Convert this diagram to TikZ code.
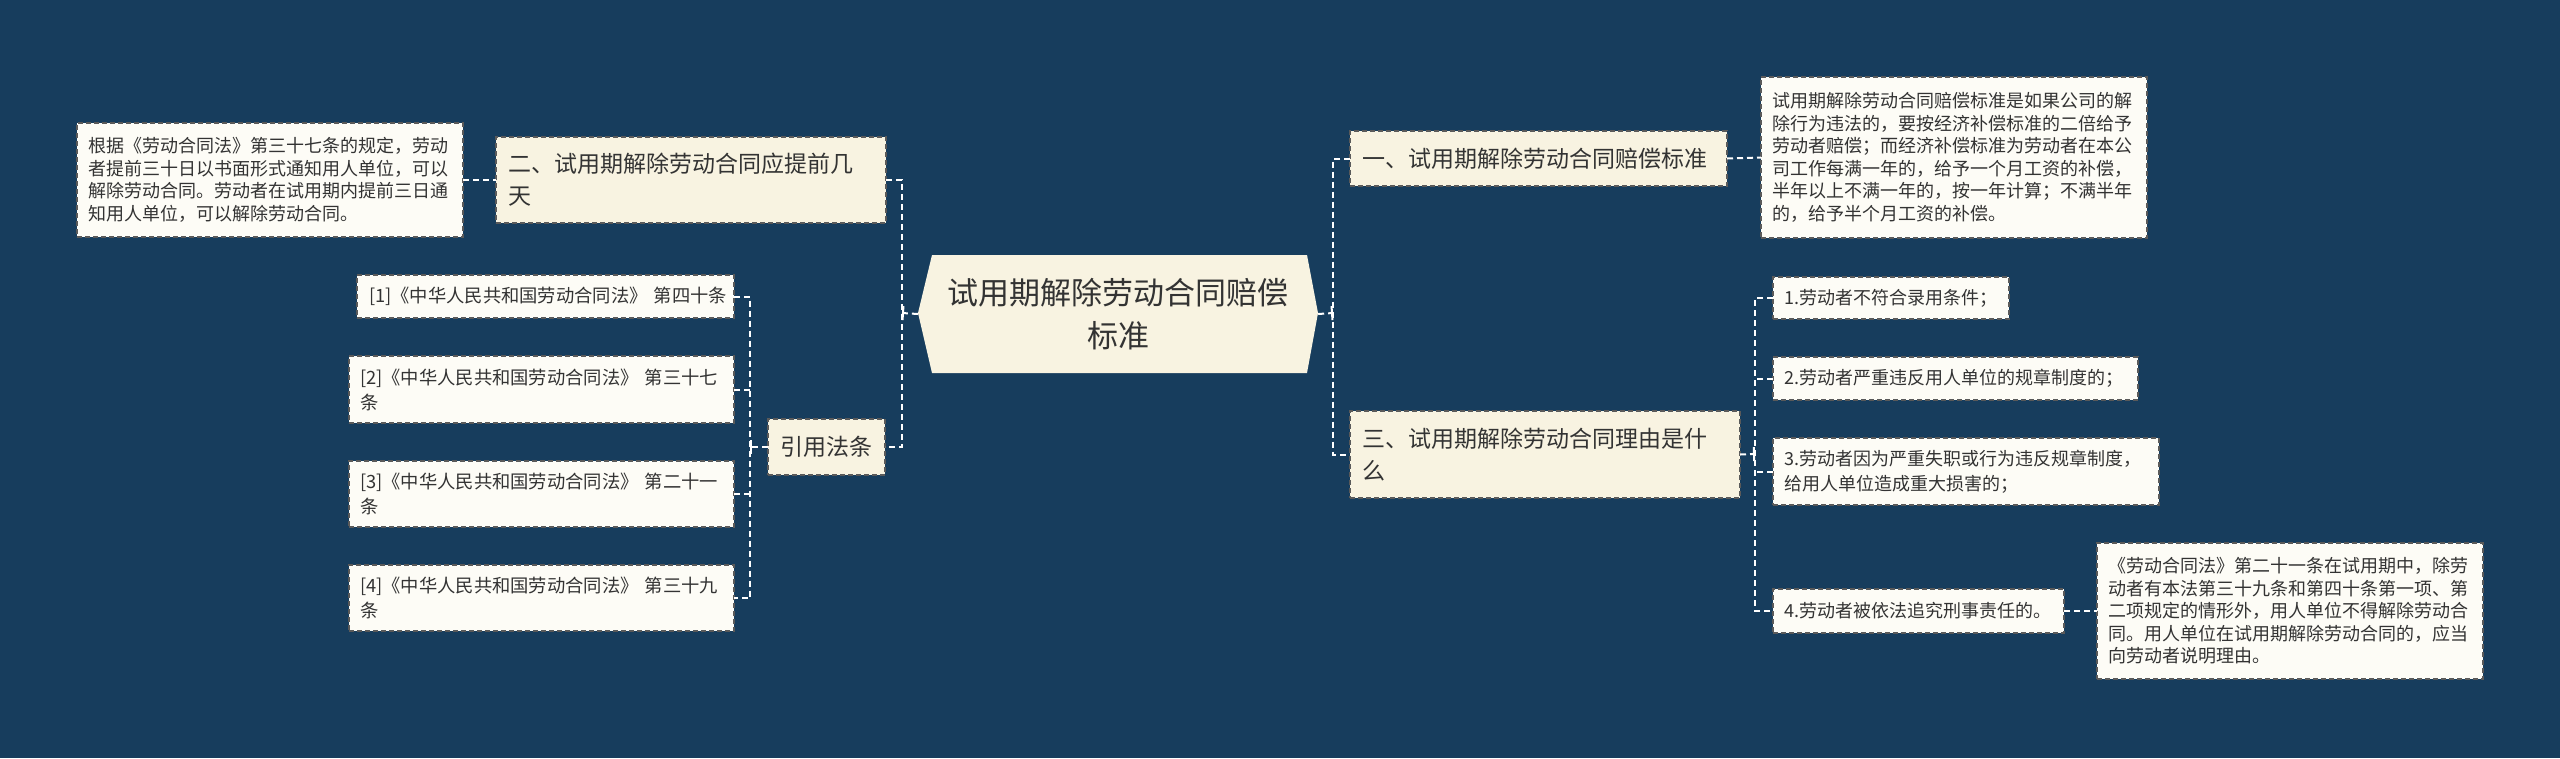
\documentclass[tikz,border=0pt]{standalone}
\usepackage{fontspec}
\setmainfont{Noto Sans CJK SC}
\usetikzlibrary{arrows.meta}
\definecolor{bgc}{HTML}{173D5D}
\definecolor{lone}{HTML}{F8F3E1}
\definecolor{leaff}{HTML}{FDFCF6}
\definecolor{bord}{HTML}{5A5A5A}
\definecolor{txt}{HTML}{333333}
\tikzset{
  box/.style={draw=bord, line width=1.2pt, dash pattern=on 5pt off 3pt, anchor=north west,
    inner xsep=11pt, inner ysep=0pt, align=left, text=txt, outer sep=0pt},
  lonebox/.style={box, fill=lone, font=\fontsize{23}{32}\selectfont, inner xsep=12pt},
  leafbox/.style={box, fill=leaff, font=\fontsize{18}{22.5}\selectfont},
  citebox/.style={box, fill=leaff, font=\fontsize{18.3}{25}\selectfont},
  conn/.style={draw=white, line width=2pt, dash pattern=on 6pt off 4pt},
  tick/.style={-{Bar[width=14pt,line width=2pt]}},
}
\begin{document}
\begin{tikzpicture}[x=1pt,y=-1pt]
\fill[bgc] (0,0) rectangle (2560,758);
\useasboundingbox (0,0) rectangle (2560,758);
% root hexagon
\fill[lone] (932,255) -- (1307,255) -- (1318,313) -- (1307,373) -- (932,373) -- (918,313) -- cycle;
\node[inner sep=0pt, minimum width=400pt, minimum height=118pt, align=center, text=txt,
  font=\fontsize{31}{43}\selectfont] (root) at (1118,314) {试用期解除劳动合同赔偿\\标准};
% left side
\node[lonebox, text width=366pt, minimum height=86pt] (b2) at (496,137) {二、试用期解除劳动合同应提前几\\天};
\node[leafbox, text width=364pt, minimum height=114pt] (b2d) at (77,123)
  {根据《劳动合同法》第三十七条的规定，劳动\\者提前三十日以书面形式通知用人单位，可以\\解除劳动合同。劳动者在试用期内提前三日通\\知用人单位，可以解除劳动合同。};
\node[lonebox, text width=93pt, minimum height=56pt] (cite) at (768,419) {引用法条};
\node[citebox, text width=353pt, minimum height=43pt, inner xsep=12pt] (c1) at (357,275) {\mbox{[1]《中华人民共和国劳动合同法》~第四十条}};
\node[citebox, text width=363pt, minimum height=67pt] (c2) at (349,356) {[2]《中华人民共和国劳动合同法》~第三十七\\条};
\node[citebox, text width=363pt, minimum height=66pt] (c3) at (349,461) {[3]《中华人民共和国劳动合同法》~第二十一\\条};
\node[citebox, text width=363pt, minimum height=66pt] (c4) at (349,565) {[4]《中华人民共和国劳动合同法》~第三十九\\条};
% right side
\node[lonebox, text width=353pt, minimum height=55pt] (b1) at (1350,131) {一、试用期解除劳动合同赔偿标准};
\node[leafbox, text width=364pt, minimum height=161pt] (b1d) at (1761,77)
  {试用期解除劳动合同赔偿标准是如果公司的解\\除行为违法的，要按经济补偿标准的二倍给予\\劳动者赔偿；而经济补偿标准为劳动者在本公\\司工作每满一年的，给予一个月工资的补偿，\\半年以上不满一年的，按一年计算；不满半年\\的，给予半个月工资的补偿。};
\node[lonebox, text width=366pt, minimum height=87pt] (b3) at (1350,411) {三、试用期解除劳动合同理由是什\\么};
\node[leafbox, text width=214pt, minimum height=42pt] (r1) at (1773,277) {1.劳动者不符合录用条件；};
\node[leafbox, text width=343pt, minimum height=43pt] (r2) at (1773,357) {2.劳动者严重违反用人单位的规章制度的；};
\node[leafbox, font=\fontsize{18}{25}\selectfont, text width=364pt, minimum height=67pt] (r3) at (1773,438) {3.劳动者因为严重失职或行为违反规章制度，\\给用人单位造成重大损害的；};
\node[leafbox, text width=269pt, minimum height=44pt] (r4) at (1773,589) {4.劳动者被依法追究刑事责任的。};
\node[leafbox, text width=364pt, minimum height=136pt] (r4d) at (2097,543)
  {《劳动合同法》第二十一条在试用期中，除劳\\动者有本法第三十九条和第四十条第一项、第\\二项规定的情形外，用人单位不得解除劳动合\\同。用人单位在试用期解除劳动合同的，应当\\向劳动者说明理由。};
% junctions
\coordinate (jl) at (902,313);
\coordinate (jr) at (1333,313);
\coordinate (jc) at (750,447);
\coordinate (j3) at (1755,454);
% connectors
\draw[conn] (b2.east) -| (jl) |- (cite.east);
\draw[conn,tick] (root.west) -- (jl);
\draw[conn] (b1.west) -| (jr) |- (b3.west);
\draw[conn,tick] (root.east) -- (jr);
\draw[conn] (b2d.east) -- (b2.west);
\draw[conn] (b1.east) -- (b1d.west);
\draw[conn] (c1.east) -| (jc) |- (c4.east);
\draw[conn] (c2.east) -- (c2.east -| jc);
\draw[conn] (c3.east) -- (c3.east -| jc);
\draw[conn,tick] (cite.west) -- (jc);
\draw[conn] (r1.west) -| (j3) |- (r4.west);
\draw[conn] (r2.west) -- (r2.west -| j3);
\draw[conn] (r3.west) -- (r3.west -| j3);
\draw[conn,tick] (b3.east) -- (j3);
\draw[conn] (r4.east) -- (r4d.west);
\end{tikzpicture}
\end{document}
